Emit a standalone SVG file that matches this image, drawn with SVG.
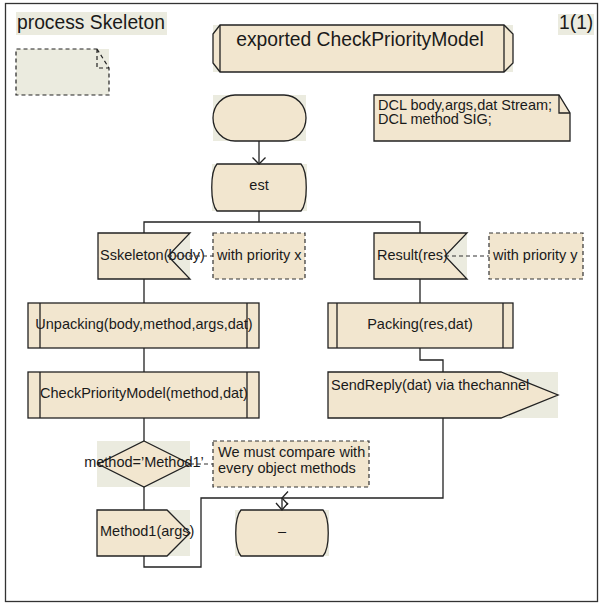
<svg xmlns="http://www.w3.org/2000/svg" width="599" height="603" viewBox="0 0 599 603">
  <style>
    .bg { fill: #EBEBDF; }
    .sym { fill: #F2E6CF; stroke: #222; stroke-width: 1.3; }
    .inner { fill: none; stroke: #222; stroke-width: 1.3; }
    .note { fill: #F2E6CF; stroke: #333; stroke-width: 1.2; stroke-dasharray: 4 3; }
    .ln { fill: none; stroke: #222; stroke-width: 1.3; }
    .dash { fill: none; stroke: #333; stroke-width: 1.2; stroke-dasharray: 4 3; }
    text { font-family: "Liberation Sans", Arial, sans-serif; fill: #1a1a1a; }
    .big { font-size: 19.3px; }
    .t { font-size: 14.5px; }
    .c { text-anchor: middle; }
  </style>

  <!-- page frame -->
  <rect x="5.5" y="3.5" width="592" height="598" fill="#fff" stroke="#333" stroke-width="1.3"/>

  <!-- header -->
  <g id="title">
    <rect class="bg" x="16" y="12" width="151" height="23"/>
    <text class="big" x="17" y="28.5">process Skeleton</text>
  </g>
  <g id="page">
    <rect class="bg" x="558" y="14" width="36" height="21"/>
    <text class="big" x="559" y="29">1(1)</text>
  </g>

  <!-- empty text symbol -->
  <g id="textSymbol">
    <path d="M16,49 H97 L109,68 V95 H16 Z" fill="#EBEBDF" stroke="none"/>
    <rect class="bg" x="97" y="49" width="12" height="19"/>
    <path d="M97,49 L109,68 V95 H16 V49 Z M97,49 V68 H109" fill="none" stroke="#222" stroke-width="1.2" stroke-dasharray="4 3"/>
  </g>

  <!-- procedure heading -->
  <g id="heading">
    <rect class="bg" x="213" y="25" width="300" height="47"/>
    <path class="sym" d="M220,25 H504 L513,34 V63 L504,72 H220 L213,63 V34 Z"/>
    <path class="inner" d="M220,25 V72 M504,25 V72"/>
    <text class="big c" x="360" y="46">exported CheckPriorityModel</text>
  </g>

  <!-- declarations -->
  <g id="declarations">
    <path class="sym" d="M374,95 H559 L570,113 V141 H374 Z"/>
    <path class="inner" d="M559,95 V113 H570"/>
    <text class="t" x="378" y="109.5">DCL body,args,dat Stream;</text>
    <text class="t" x="378" y="124">DCL method SIG;</text>
  </g>

  <!-- start -->
  <g id="start">
    <rect class="bg" x="213" y="95" width="93" height="46"/>
    <rect class="sym" x="213" y="95" width="93" height="46" rx="22" ry="23"/>
  </g>

  <!-- state est -->
  <g id="state_est">
    <rect class="bg" x="212" y="164" width="95" height="47"/>
    <path class="sym" d="M217,164 H301 C308,172 308,203 301,211 H217 C210,203 210,172 217,164 Z"/>
    <text class="t c" x="259" y="189.5">est</text>
  </g>

  <!-- input Sskeleton -->
  <g id="input_sskeleton">
    <rect class="bg" x="98" y="233" width="92" height="46"/>
    <path class="sym" d="M98,233 H190 L168,256 L190,279 H98 Z"/>
    <text class="t" x="100" y="260">Sskeleton(body)</text>
  </g>
  <g id="comment_x">
    <rect class="note" x="213" y="233" width="92" height="46"/>
    <text class="t" x="217" y="260">with priority x</text>
  </g>

  <!-- input Result -->
  <g id="input_result">
    <rect class="bg" x="374" y="233" width="93" height="46"/>
    <path class="sym" d="M374,233 H467 L445,256 L467,279 H374 Z"/>
    <text class="t" x="377" y="259.5">Result(res)</text>
  </g>
  <g id="comment_y">
    <rect class="note" x="489" y="233" width="94" height="46"/>
    <text class="t" x="493" y="259.5">with priority y</text>
  </g>

  <!-- procedure calls -->
  <g id="call_unpacking">
    <rect class="sym" x="28" y="303" width="231" height="45"/>
    <path class="inner" d="M40,303 V348 M247,303 V348"/>
    <text class="t c" x="144" y="328.5">Unpacking(body,method,args,dat)</text>
  </g>
  <g id="call_check">
    <rect class="sym" x="28" y="372" width="231" height="46"/>
    <path class="inner" d="M40,372 V418 M247,372 V418"/>
    <text class="t c" x="144" y="397.5">CheckPriorityModel(method,dat)</text>
  </g>
  <g id="call_packing">
    <rect class="sym" x="328" y="303" width="185" height="45"/>
    <path class="inner" d="M337,303 V348 M503,303 V348"/>
    <text class="t c" x="420" y="328.5">Packing(res,dat)</text>
  </g>

  <!-- output SendReply -->
  <g id="output_sendreply">
    <rect class="bg" x="328" y="372" width="230" height="46"/>
    <path class="sym" d="M328,372 H501 L558,395 L501,418 H328 Z"/>
    <text class="t" x="331" y="390">SendReply(dat) via thechannel</text>
  </g>

  <!-- decision -->
  <g id="decision">
    <rect class="bg" x="97" y="441" width="93" height="46"/>
    <path class="sym" d="M144,441 L190,464 L144,487 L98,464 Z"/>
    <text class="t c" x="144" y="467">method=’Method1’</text>
  </g>
  <g id="comment_compare">
    <rect class="note" x="213" y="441" width="156" height="46"/>
    <text class="t" x="218" y="457">We must compare with</text>
    <text class="t" x="218" y="472.5">every object methods</text>
  </g>

  <!-- output Method1 -->
  <g id="output_method1">
    <rect class="bg" x="97" y="510" width="93" height="46"/>
    <path class="sym" d="M97,510 H167 L190,533 L167,556 H97 Z"/>
    <text class="t" x="100" y="536">Method1(args)</text>
  </g>

  <!-- end state -->
  <g id="state_dash">
    <rect class="bg" x="235" y="510" width="94" height="46"/>
    <path class="sym" d="M241,510 H323 C330,518 330,548 323,556 H241 C234,548 234,518 241,510 Z"/>
    <text class="t c" x="282" y="536">–</text>
  </g>

  <!-- connectors -->
  <g id="connectors">
    <path class="ln" d="M259,141 V164"/>
    <path class="ln" d="M252.5,157.5 L259,164 L265.5,157.5"/>
    <path class="ln" d="M259,211 V222 M144,233 V222 H420 V233"/>
    <path class="ln" d="M144,279 V303 M144,348 V372 M144,418 V441 M144,487 V510"/>
    <path class="ln" d="M420,279 V303 M420,348 V360 H443 V372"/>
    <path class="ln" d="M443,418 V498 H201 V567 H144 V556"/>
    <path class="ln" d="M282,498 V510"/>
    <path class="ln" d="M276,503 L282,510 L288,503"/>
    <path class="ln" d="M288,491.5 L282,498 L288,504.5"/>
    <path class="dash" d="M168,256 H213"/>
    <path class="dash" d="M445,256 H489"/>
    <path class="dash" d="M190,464 H213"/>
  </g>
</svg>
